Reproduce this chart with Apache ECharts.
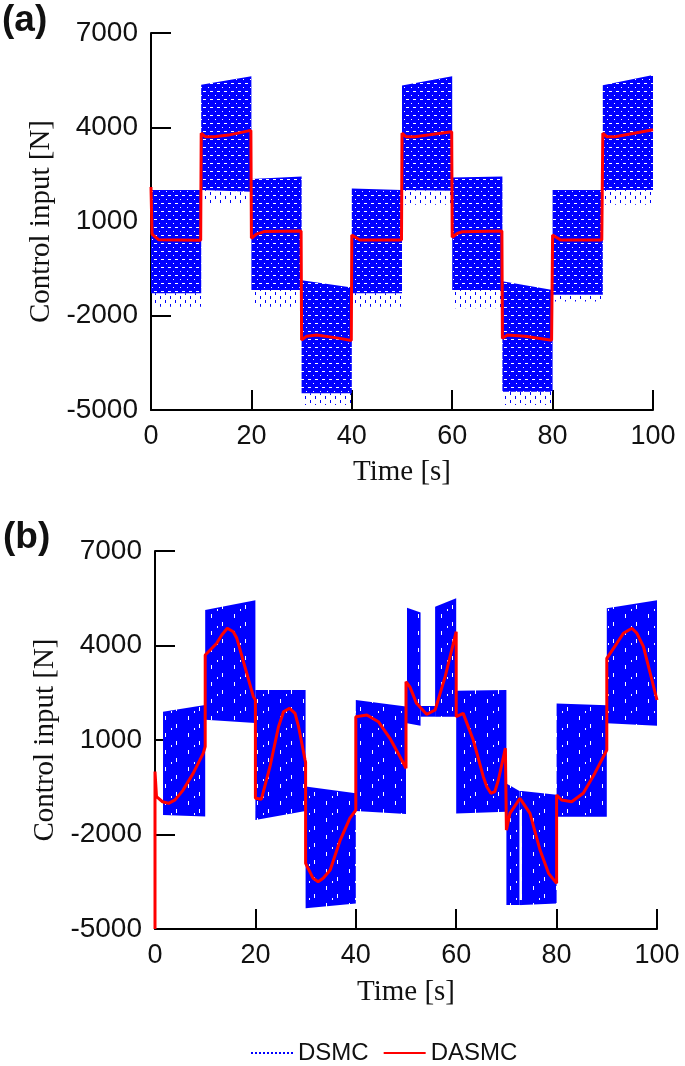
<!DOCTYPE html>
<html><head><meta charset="utf-8">
<script src="https://cdn.jsdelivr.net/npm/echarts@6/dist/echarts.min.js"></script>
<style>html,body{margin:0;padding:0;background:#fff}#c{width:685px;height:1066px}</style>
</head><body><div id="c"></div>
<script>
// ---------------- data ----------------
const xTicks = [0, 20, 40, 60, 80, 100];
const yTicks = [-5000, -2000, 1000, 4000, 7000];

// panel (a): DSMC chattering envelope per switching segment
const dsmcA_t0   = [0, 10, 20, 30, 40, 50, 60, 70, 80, 90];
const dsmcA_t1   = [10, 20, 30, 40, 50, 60, 70, 80, 90, 100];
const dsmcA_top0 = [2000, 5350, 2350, -870, 2050, 5330, 2400, -900, 2000, 5340];
const dsmcA_top1 = [2000, 5620, 2430, -1100, 2000, 5620, 2430, -1180, 2000, 5660];
const dsmcA_bot0 = [-1280, 2000, -1180, -4470, -1280, 2000, -1180, -4420, -1330, 2000];
const dsmcA_bot1 = [-1280, 1950, -1180, -4470, -1280, 1980, -1180, -4420, -1330, 2000];
const dsmcA_spike = [-1710, 1590, -1710, -4840, -1710, 1530, -1760, -4840, -1550, 1530];

// panel (a): DASMC
const dasmcA_t = [0,0.2,1.5,9.9,10,10.8,12.5,15.4,19.9,20,21,22.5,29.9,30,31,33,37.6,39.9,40,41.6,49.9,50,50.8,52.5,55.5,59.9,60,61,62,69.9,70,71,74.5,79.8,80,81.6,89.8,90,90.8,92.4,96,100];
const dasmcA_v = [2100,600,420,400,3810,3700,3700,3750,3900,465,600,680,700,-2770,-2650,-2610,-2720,-2790,570,410,410,3810,3700,3700,3760,3860,500,620,675,700,-2720,-2610,-2650,-2780,570,410,410,3810,3700,3700,3800,3920];

// panel (b): DSMC chattering envelope pieces
const dsmcB_t0   = [1.6, 10, 20, 30, 40, 50.2, 52.9, 55.8, 60, 70, 72.6, 72.6, 73.1, 80, 90];
const dsmcB_t1   = [10, 20, 30, 40, 50, 52.9, 55.8, 60, 70, 72.6, 73.1, 73.1, 80, 90, 100];
const dsmcB_top0 = [1900, 5130, 2590, -480, 2270, 5200, 2080, 5230, 2560, -380, -620, -4080, -620, 2160, 5180];
const dsmcB_top1 = [2110, 5440, 2590, -690, 2060, 5050, 2080, 5500, 2590, -620, -620, -4080, -740, 2100, 5440];
const dsmcB_bot0 = [-1380, 1640, -1540, -4340, -1250, 1530, 1740, 1740, -1330, -4240, -1220, -4240, -4240, -1440, 1530];
const dsmcB_bot1 = [-1430, 1540, -1250, -4190, -1350, 1450, 1740, 1740, -1280, -4240, -1220, -4240, -4190, -1440, 1450];

// panel (b): DASMC
const dasmcB_t = [0,0,0.3,1.5,2.7,4,5.6,7.6,9.6,10,10,12.3,13.3,14.4,15.6,16.3,17.9,19.6,20,20,21.2,22.9,24.6,25.6,26.8,27.9,28.6,29.9,30,30,31.5,32.5,33.5,34.9,36.9,38.8,40,40,42.2,44.5,46.8,48.8,50,50,50.8,52.1,54.1,55.8,57.8,60,60,61.4,63.4,65.4,66.1,66.9,67.7,68.4,69.8,70,70.7,72.7,74.7,76.7,78.4,80,80,81,83,85.3,87.6,90,90,92,93.3,95,96,97.3,100];
const dasmcB_v = [-5000,0,-800,-960,-1010,-900,-590,-60,577,790,3700,4070,4333,4546,4438,4228,3327,2374,2270,-850,-880,152,1422,1898,2006,1846,1422,364,300,-2916,-3391,-3500,-3391,-3128,-2176,-1487,-1223,1739,1793,1580,1053,470,100,2850,2680,2164,1815,1952,3010,4438,1740,1846,1000,-166,-483,-693,-640,-270,740,-1860,-1328,-851,-1328,-2493,-3233,-3550,-747,-906,-960,-693,-60,682,3593,4070,4387,4546,4387,3963,2270];

// ---------------- styles ----------------
const BLUE = '#0000ff', RED = '#ff0000';
const SANS = '"Liberation Sans", Arial, sans-serif';
const SERIF = '"Liberation Serif", "Times New Roman", serif';

function makePattern(w, h, bg, color, rects) {
  const c = document.createElement('canvas'); c.width = w; c.height = h;
  const g = c.getContext('2d');
  if (bg) { g.fillStyle = bg; g.fillRect(0, 0, w, h); }
  g.fillStyle = color;
  rects.forEach(r => g.fillRect(r[0], r[1], r[2], r[3]));
  return { image: c, repeat: 'repeat' };
}
const meshFill  = makePattern(7, 8, BLUE, '#ffffff', [[0,3,3,1],[5,7,1,1]]);
const spikeFill = makePattern(10, 8, null, BLUE, [[0,0,1,3],[5,4,1,3]]);
const solidFill = makePattern(23, 17, BLUE, '#ffffff', [[4,2,1,4],[15,10,1,4],[10,14,1,2]]);

function bandSeries(xi, t0, t1, top0, top1, bot0, bot1, fill) {
  return {
    type: 'custom', name: 'DSMC', xAxisIndex: xi, yAxisIndex: xi,
    itemStyle: { color: BLUE }, silent: true, z: 2,
    data: t0.map((_, i) => [t0[i], t1[i], top0[i], top1[i], bot0[i], bot1[i]]),
    encode: { x: [0, 1], y: [2, 3, 4, 5] },
    renderItem(params, api) {
      const a = api.coord([api.value(0), api.value(2)]);
      const b = api.coord([api.value(1), api.value(3)]);
      const c = api.coord([api.value(1), api.value(5)]);
      const d = api.coord([api.value(0), api.value(4)]);
      return { type: 'polygon', shape: { points: [a, b, c, d] }, style: { fill: fill } };
    }
  };
}

function xAxis(gi, gap) {
  return {
    type: 'value', gridIndex: gi, min: 0, max: 100,
    axisLine: { show: true, onZero: false, lineStyle: { color: '#000', width: 2 } },
    axisTick: { show: true, inside: true, length: 20, customValues: xTicks, lineStyle: { color: '#000', width: 2 } },
    axisLabel: { customValues: xTicks, fontSize: 27, color: '#111', fontFamily: SANS, margin: 13,
                 formatter: v => String(v) },
    splitLine: { show: false },
    name: 'Time [s]', nameLocation: 'middle', nameGap: gap,
    nameTextStyle: { fontFamily: SERIF, fontSize: 29, color: '#111' }
  };
}
function yAxis(gi) {
  return {
    type: 'value', gridIndex: gi, min: -5000, max: 7000,
    axisLine: { show: true, onZero: false, lineStyle: { color: '#000', width: 2 } },
    axisTick: { show: true, inside: true, length: 20, customValues: yTicks, lineStyle: { color: '#000', width: 2 } },
    axisLabel: { customValues: yTicks, fontSize: 28, color: '#111', fontFamily: SANS, margin: 13,
                 formatter: v => String(v) },
    splitLine: { show: false },
    name: 'Control input [N]', nameLocation: 'middle', nameGap: 79, nameRotate: 90,
    nameTextStyle: { fontFamily: SERIF, fontSize: 29, color: '#111' }
  };
}

const chart = echarts.init(document.getElementById('c'), null, { renderer: 'canvas' });
chart.setOption({
  animation: false,
  backgroundColor: '#fff',
  grid: [
    { left: 151, right: 32, top: 33, height: 377, containLabel: false, outerBoundsMode: 'none' },
    { left: 155, right: 28, top: 551, height: 378, containLabel: false, outerBoundsMode: 'none' }
  ],
  xAxis: [xAxis(0, 48), xAxis(1, 49)],
  yAxis: [yAxis(0), yAxis(1)],
  legend: {
    left: 245, top: 1036, itemWidth: 42, itemHeight: 14, itemGap: 14,
    itemStyle: { opacity: 0 },
    data: ['DSMC', 'DASMC'],
    textStyle: { fontSize: 24, fontFamily: SANS, color: '#111' }
  },
  graphic: [
    { type: 'text', left: 2, top: 2, style: { text: '(a)', font: 'bold 37px ' + SANS, fill: '#111' } },
    { type: 'text', left: 3, top: 519, style: { text: '(b)', font: 'bold 37px ' + SANS, fill: '#111' } }
  ],
  series: [
    { type: 'line', name: 'DSMC', data: [], symbol: 'none', xAxisIndex: 0, yAxisIndex: 0,
      lineStyle: { color: BLUE, width: 1.3, type: [2, 2] }, itemStyle: { color: BLUE } },
    bandSeries(0, dsmcA_t0, dsmcA_t1, dsmcA_bot0, dsmcA_bot1, dsmcA_spike, dsmcA_spike, spikeFill),
    bandSeries(0, dsmcA_t0, dsmcA_t1, dsmcA_top0, dsmcA_top1, dsmcA_bot0, dsmcA_bot1, meshFill),
    bandSeries(1, dsmcB_t0, dsmcB_t1, dsmcB_top0, dsmcB_top1, dsmcB_bot0, dsmcB_bot1, solidFill),
    { type: 'line', name: 'DASMC', xAxisIndex: 0, yAxisIndex: 0, symbol: 'none', z: 5,
      lineStyle: { color: RED, width: 3 }, itemStyle: { color: RED },
      data: dasmcA_t.map((t, i) => [t, dasmcA_v[i]]) },
    { type: 'line', name: 'DASMC', xAxisIndex: 1, yAxisIndex: 1, symbol: 'none', z: 5,
      lineStyle: { color: RED, width: 3 }, itemStyle: { color: RED },
      data: dasmcB_t.map((t, i) => [t, dasmcB_v[i]]) }
  ]
});
</script></body></html>
